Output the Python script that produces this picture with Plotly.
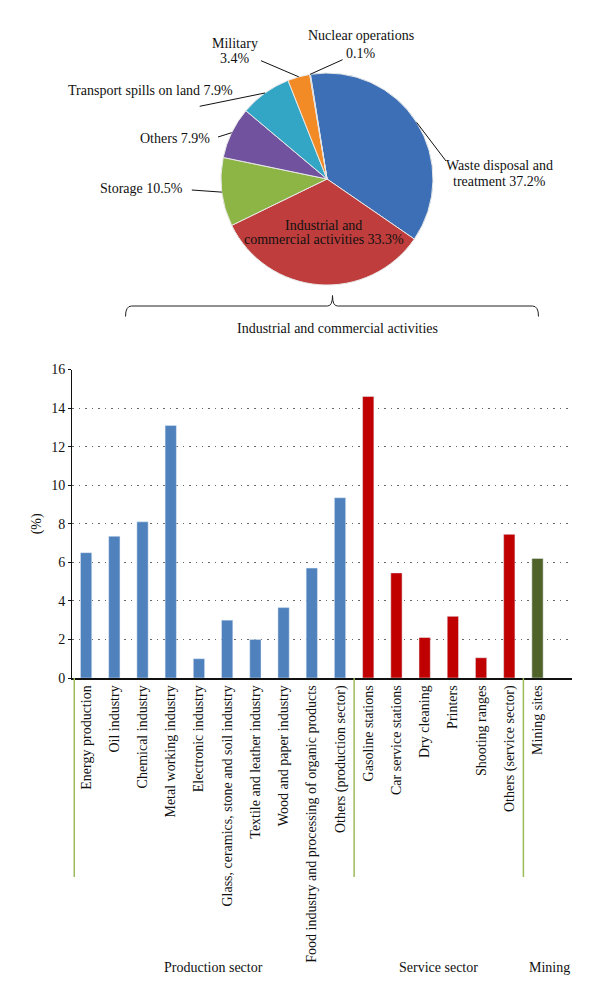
import math
import plotly.graph_objects as go

# ---------------- data ----------------
pie_labels = ["Waste disposal and treatment", "Industrial and commercial activities",
              "Storage", "Others", "Transport spills on land", "Military", "Nuclear operations"]
pie_values = [37.2, 33.3, 10.5, 7.9, 7.9, 3.4, 0.1]

production_labels = ["Energy production", "Oil industry", "Chemical industry",
                     "Metal working industry", "Electronic industry",
                     "Glass, ceramics, stone and soil industry",
                     "Textile and leather industry", "Wood and paper industry",
                     "Food industry and processing of organic products",
                     "Others (production sector)"]
production_values = [6.5, 7.35, 8.1, 13.1, 1.0, 3.0, 2.0, 3.65, 5.7, 9.35]

service_labels = ["Gasoline stations", "Car service stations", "Dry cleaning",
                  "Printers", "Shooting ranges", "Others (service sector)"]
service_values = [14.6, 5.45, 2.1, 3.2, 1.05, 7.45]

mining_labels = ["Mining sites"]
mining_values = [6.2]

group_names = ["Production sector", "Service sector", "Mining"]
y_ticks = [0, 2, 4, 6, 8, 10, 12, 14, 16]

# ---------------- styling helpers ----------------
W, H = 600, 989
FONT = "Liberation Serif"


def px(x):
    return x / W


def py(y):
    return 1 - y / H


pie_colors = ["#3C6FB6", "#BF3D3C", "#8DB545", "#71529E", "#34A6C5", "#F28B25", "#2F5F9E"]

# pie geometry (pixels)
PCX, PCY, PR = 319, 171, 106
ROT = -9

fig = go.Figure()

fig.add_trace(go.Pie(
    labels=pie_labels, values=pie_values, sort=False, direction="clockwise",
    rotation=ROT, textinfo="none", hoverinfo="label+percent",
    marker=dict(colors=pie_colors, line=dict(color="#e8e8e8", width=1)),
    domain=dict(x=[px(PCX - PR), px(PCX + PR)], y=[py(PCY + PR), py(PCY - PR)]),
    showlegend=False,
))

colors_bar = {"prod": "#4F81BD", "serv": "#C00000", "mine": "#4F6228"}
all_labels = production_labels + service_labels + mining_labels
fig.add_trace(go.Bar(x=production_labels, y=production_values,
                     marker_color=colors_bar["prod"], showlegend=False,
                     xaxis="x", yaxis="y"))
fig.add_trace(go.Bar(x=service_labels, y=service_values,
                     marker_color=colors_bar["serv"], showlegend=False))
fig.add_trace(go.Bar(x=mining_labels, y=mining_values,
                     marker_color=colors_bar["mine"], showlegend=False))

# ---------------- pie labels ----------------
pie_display = ["Waste disposal and<br>treatment", "Industrial and<br>commercial activities",
               "Storage", "Others", "Transport spills on land", "Military<br>",
               "Nuclear operations<br>"]
# (x, first-line y, line spacing, xanchor, leader-line outer end or None)
label_layout = [
    (492, 157.7, 15.5, "center", (438, 153)),
    (316, 217, 14.5, "center", None),
    (177, 180.3, 0, "right", (183.8, 182)),
    (204, 130, 0, "right", (210, 129)),
    (227, 82.7, 0, "right", (191.7, 98.3)),
    (227, 35, 15.7, "center", (253, 52.7)),
    (352.7, 27.7, 18, "center", (334.6, 51.7)),
]

annotations = []
shapes = []
total = sum(pie_values)
cum = 0.0
for name, val, disp, lay in zip(pie_labels, pie_values, pie_display, label_layout):
    mid = ROT + (cum + val / 2) / total * 360
    cum += val
    text = f"{disp} {val}%"
    lines = [t.strip() for t in text.split("<br>")]
    lx, ly, sp, anchor, outer = lay
    for i, ln in enumerate(lines):
        annotations.append(dict(text=ln, x=px(lx), y=py(ly + i * sp), xref="paper", yref="paper",
                                xanchor=anchor, yanchor="middle", showarrow=False,
                                font=dict(family=FONT, size=14, color="#111")))
    if outer is not None:
        a = math.radians(mid)
        ix = PCX + PR * math.sin(a)
        iy = PCY - PR * math.cos(a)
        shapes.append(dict(type="line", xref="paper", yref="paper",
                           x0=px(outer[0]), y0=py(outer[1]), x1=px(ix), y1=py(iy),
                           line=dict(color="#111", width=1)))

# brace under the pie
bx0, bx1, bm, by, btop, bend = 117.5, 530.5, 324.5, 298, 287.5, 308.5
brace = (f"M {px(bx0)} {py(bend)} Q {px(bx0)} {py(by)} {px(bx0 + 6)} {py(by)} "
         f"L {px(bm - 5)} {py(by)} Q {px(bm)} {py(by)} {px(bm)} {py(btop)} "
         f"Q {px(bm)} {py(by)} {px(bm + 5)} {py(by)} "
         f"L {px(bx1 - 6)} {py(by)} Q {px(bx1)} {py(by)} {px(bx1)} {py(bend)}")
shapes.append(dict(type="path", xref="paper", yref="paper", path=brace,
                   line=dict(color="#222", width=1)))
annotations.append(dict(text="Industrial and commercial activities", x=px(329.6), y=py(320),
                        xref="paper", yref="paper", showarrow=False, xanchor="center",
                        yanchor="middle", font=dict(family=FONT, size=14, color="#111")))

# ---------------- bar chart decorations ----------------
sizes = [len(production_labels), len(service_labels), len(mining_labels)]
start = 0
bounds = []
centers = []
for s in sizes:
    bounds.append(start - 0.5)
    centers.append(start + (s - 1) / 2)
    start += s
bound_shift = [0.08, 0, 0]
for b, bs in zip(bounds, bound_shift):
    shapes.append(dict(type="line", xref="x", yref="paper", x0=b + bs, x1=b + bs,
                       y0=py(670), y1=py(869), line=dict(color="#9BBB59", width=1.5)))
shifts = [0, 0, 12]
for name, c, sh in zip(group_names, centers, shifts):
    annotations.append(dict(text=name, x=c, xref="x", y=py(959), yref="paper",
                            xshift=sh, showarrow=False, xanchor="center", yanchor="middle",
                            font=dict(family=FONT, size=14, color="#111")))
annotations.append(dict(text="(%)", x=px(28.8), y=py(515.5), xref="paper", yref="paper",
                        textangle=-90, showarrow=False, xanchor="center", yanchor="middle",
                        font=dict(family=FONT, size=14, color="#111")))

fig.update_layout(
    width=W, height=H, margin=dict(l=0, r=0, t=0, b=0),
    paper_bgcolor="white", plot_bgcolor="white",
    bargap=0.6, barmode="group",
    font=dict(family=FONT, size=14, color="#111"),
    xaxis=dict(domain=[px(64), px(564)], categoryorder="array", categoryarray=all_labels,
               tickangle=-90, showline=True, linecolor="#111", linewidth=1.5,
               ticks="", tickfont=dict(family=FONT, size=14, color="#111"),
               showgrid=False, automargin=False, anchor="y", fixedrange=True),
    yaxis=dict(domain=[py(670), py(361.5)], range=[0, 16], tickvals=y_ticks,
               showline=True, linecolor="#111", linewidth=1, ticks="outside", ticklen=3,
               tickcolor="#111", showgrid=True, gridcolor="#666", griddash="1.5px,5px",
               gridwidth=1, zeroline=False, automargin=False,
               tickfont=dict(family=FONT, size=14, color="#111"), anchor="x"),
    annotations=annotations, shapes=shapes,
)

fig.write_html("out.html")
